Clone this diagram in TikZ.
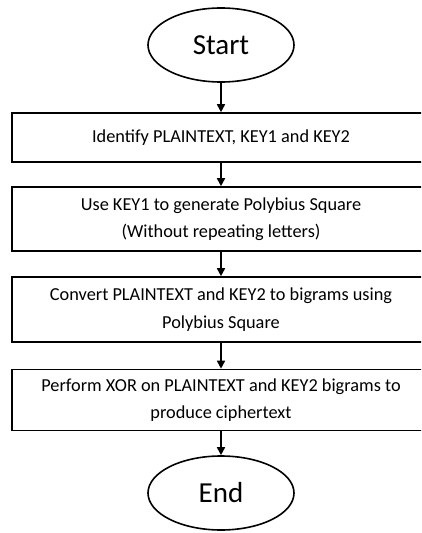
\documentclass[tikz,border=0pt]{standalone}
\usepackage{fontspec}
\setmainfont{Carlito}
\usetikzlibrary{shapes.geometric,arrows.meta}
\begin{document}
\begin{tikzpicture}[x=1pt,y=-1pt,
  term/.style={draw,ellipse,line width=1.6pt,minimum width=146pt,minimum height=74pt,inner sep=0pt,font=\fontsize{29}{34}\selectfont},
  stepbox/.style={draw,rectangle,line width=1.6pt,minimum width=418pt,inner sep=0pt,align=center,font=\fontsize{18.3}{27.5}\selectfont},
  flow/.style={line width=1.6pt,-{Triangle[length=8pt,width=8pt]}}]
\useasboundingbox (0,0) rectangle (421,533);
\clip (0,0) rectangle (421,533);
\node[term] (start) at (221,45) {Start};
\node[stepbox,minimum height=49pt] (b1) at (221,137.5) {Identify PLAINTEXT, KEY1 and KEY2};
\node[stepbox,minimum height=64pt] (b2) at (221,219) {Use KEY1 to generate Polybius Square\\(Without repeating letters)};
\node[stepbox,minimum height=65pt] (b3) at (221,309.5) {Convert PLAINTEXT and KEY2 to bigrams using\\Polybius Square};
\node[stepbox,minimum height=61pt] (b4) at (221,400) {Perform XOR on PLAINTEXT and KEY2 bigrams to\\produce ciphertext};
\node[term] (stop) at (221,493) {End};
\draw[flow] (start) -- (b1);
\draw[flow] (b1) -- (b2);
\draw[flow] (b2) -- (b3);
\draw[flow] (b3) -- (b4);
\draw[flow] (b4) -- (stop);
\end{tikzpicture}
\end{document}
